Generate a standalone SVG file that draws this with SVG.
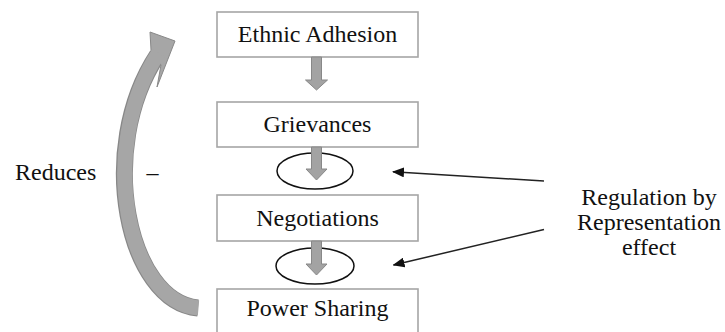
<svg xmlns="http://www.w3.org/2000/svg" width="725" height="332" viewBox="0 0 725 332">
<defs>
<style>
.box{fill:#ffffff;stroke:#a6a6a6;stroke-width:1.6}
.lbl{font-size:24px;fill:#111111}
.down{fill:#a3a3a3;stroke:#888888;stroke-width:1}
.ell{fill:none;stroke:#111111;stroke-width:1.5}
.conn{stroke:#222222;stroke-width:1.5;fill:none}
</style>
<marker id="ah" viewBox="0 0 12 10" refX="11" refY="5" markerWidth="12" markerHeight="10" markerUnits="userSpaceOnUse" orient="auto">
<path d="M0,0 L12,5 L0,10 Z" fill="#111111"/>
</marker>
</defs>
<rect width="725" height="332" fill="#ffffff"/>

<g font-family="'Liberation Serif', 'DejaVu Serif', 'Times New Roman', serif">
<g id="ethnic-adhesion">
<rect class="box" x="217" y="12" width="201" height="45"/>
<text class="lbl" x="317.5" y="42" text-anchor="middle">Ethnic Adhesion</text>
</g>
<g id="grievances">
<rect class="box" x="217" y="102" width="201" height="45"/>
<text class="lbl" x="317.5" y="132" text-anchor="middle">Grievances</text>
</g>
<g id="negotiations">
<rect class="box" x="217" y="195" width="201" height="46"/>
<text class="lbl" x="317.5" y="226" text-anchor="middle">Negotiations</text>
</g>
<g id="power-sharing">
<rect class="box" x="217" y="289" width="201" height="50"/>
<text class="lbl" x="317.5" y="316" text-anchor="middle">Power Sharing</text>
</g>

<g id="regulation-label">
<text class="lbl" x="649" y="205" text-anchor="middle">Regulation by</text>
<text class="lbl" x="649" y="230" text-anchor="middle">Representation</text>
<text class="lbl" x="649" y="255" text-anchor="middle">effect</text>
</g>
<g id="reduces-label">
<text class="lbl" x="15" y="180">Reduces</text>
<text class="lbl" x="152.5" y="180" text-anchor="middle">–</text>
</g>
</g>

<g id="connectors">
<ellipse class="ell" cx="315" cy="171" rx="38" ry="18"/>
<ellipse class="ell" cx="315" cy="266" rx="39" ry="18"/>
<path class="down" d="M311.5,57 H321.5 V80 H327.5 L316.5,90 L305.5,80 H311.5 Z"/>
<path class="down" d="M311.5,147 H321.5 V169 H327 L316.5,180 L306,169 H311.5 Z"/>
<path class="down" d="M311.5,241 H321.5 V264 H327 L316.5,275 L306,264 H311.5 Z"/>
<line class="conn" x1="544" y1="181" x2="393" y2="171.7" marker-end="url(#ah)"/>
<line class="conn" x1="544" y1="229.5" x2="393.5" y2="265" marker-end="url(#ah)"/>
<g id="reduces-arrow">
<path d="M198,308 C128,302 95,150 157.5,55" fill="none" stroke="#888888" stroke-width="17"/>
<polygon points="150,32 175,41 157,87 161,65 151,50" fill="#a6a6a6" stroke="#888888" stroke-width="1"/>
<path d="M198.5,308 C128,302 95,150 158.5,53" fill="none" stroke="#a6a6a6" stroke-width="15"/>
</g>
</g>
</svg>
